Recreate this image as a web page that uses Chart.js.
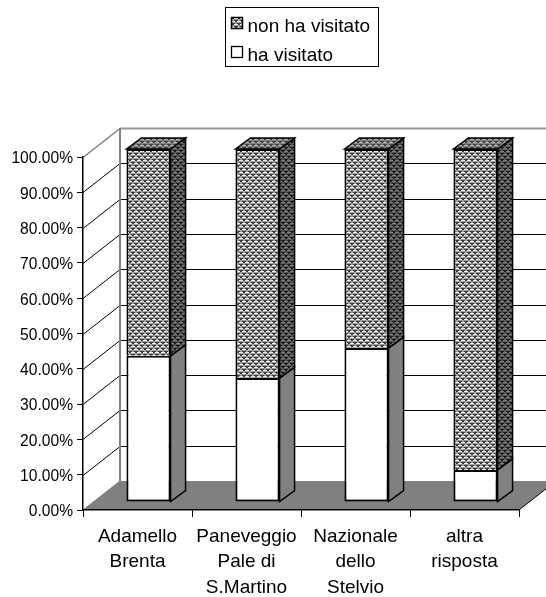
<!DOCTYPE html>
<html>
<head>
<meta charset="utf-8">
<title>Parchi visitati</title>
<script src="https://cdn.jsdelivr.net/npm/chart.js@4"></script>
<style>
html, body { margin: 0; padding: 0; background: #fff; }
canvas { display: block; }
</style>
</head>
<body>
<canvas id="chart" width="546" height="597"></canvas>
<script>
var categories = [["Adamello", "Brenta"], ["Paneveggio", "Pale di", "S.Martino"], ["Nazionale", "dello", "Stelvio"], ["altra", "risposta"]],
    haVisitato = [41.4, 35.1, 43.6, 9.1],
    nonHaVisitato = [58.6, 64.9, 56.4, 90.9],
    seriesNames = ["ha visitato", "non ha visitato"],
    yTicks = [0, 10, 20, 30, 40, 50, 60, 70, 80, 90, 100];

var wallX = 37, wallY = -29,     // depth of the floor and the side wall
    barShiftX = 11, barShiftY = -8, // bars stand in the middle of the floor
    barDepthX = 15, barDepthY = -11,
    fontName = '"Liberation Sans", Arial, sans-serif';

// brick of light blobs on a dark lattice, like the old office fill pattern
function dots(bg, light, dark) {
    var tile = document.createElement("canvas");
    tile.width = 6;
    tile.height = 6;
    var c = tile.getContext("2d");
    c.fillStyle = bg;
    c.fillRect(0, 0, 6, 6);
    c.fillStyle = light;
    c.fillRect(0, 0, 4, 1);
    c.fillRect(3, 3, 3, 1);
    c.fillRect(0, 3, 1, 1);
    c.fillStyle = dark;
    c.fillRect(4, 0, 2, 1);
    c.fillRect(1, 3, 2, 1);
    c.fillRect(0, 2, 4, 1);
    c.fillRect(3, 5, 3, 1);
    c.fillRect(0, 5, 1, 1);
    return document.getElementById("chart").getContext("2d").createPattern(tile, "repeat");
}

var frontFill = dots("#a0a0a0", "#f2f2f2", "#3c3c3c"),
    topFill = dots("#848484", "#b0b0b0", "#404040"),
    sideFill = dots("#565656", "#808080", "#1c1c1c");

function poly(ctx, pts, fill, stroke, width) {
    ctx.beginPath();
    ctx.moveTo(pts[0][0], pts[0][1]);
    for (var i = 1; i < pts.length; i++) ctx.lineTo(pts[i][0], pts[i][1]);
    ctx.closePath();
    if (fill) {
        ctx.fillStyle = fill;
        ctx.fill();
    }
    if (stroke) {
        ctx.strokeStyle = stroke;
        ctx.lineWidth = width;
        ctx.stroke();
    }
}

function line(ctx, x1, y1, x2, y2, color, width) {
    ctx.beginPath();
    ctx.moveTo(x1, y1);
    ctx.lineTo(x2, y2);
    ctx.strokeStyle = color;
    ctx.lineWidth = width;
    ctx.stroke();
}

// back wall, floor and the bent gridlines
var wallPlugin = {
    id: "wall",
    beforeDraw: function (chart) {
        var ctx = chart.ctx, a = chart.chartArea, y = chart.scales.y, w = chart.width;
        ctx.save();
        poly(ctx, [[a.left, a.bottom], [a.right, a.bottom], [a.right + wallX, a.bottom + wallY], [a.left + wallX, a.bottom + wallY]], "#808080");
        line(ctx, a.left, a.bottom, a.left + wallX, a.bottom + wallY, "#808080", 1);
        line(ctx, a.right, a.bottom, a.right + wallX, a.bottom + wallY, "#000", 1);
        yTicks.forEach(function (v) {
            var py = Math.round(y.getPixelForValue(v)) + 0.5;
            if (v === 100) {
                line(ctx, a.left, py, a.left + wallX, py + wallY, "#808080", 1.5);
                line(ctx, a.left + wallX, py + wallY, w, py + wallY, "#999", 2);
            } else if (v > 0) {
                line(ctx, a.left, py, a.left + wallX, py + wallY, "#000", 1);
                line(ctx, a.left + wallX, py + wallY, w, py + wallY, "#000", 1);
            } else {
                line(ctx, a.left + wallX, py + wallY, w, py + wallY, "#808080", 1);
            }
        });
        line(ctx, a.left + wallX, y.getPixelForValue(100) + wallY, a.left + wallX, a.bottom + wallY, "#808080", 2);
        ctx.restore();
    },
    // side and top faces come from the bar elements, the front is the real bar
    beforeDatasetsDraw: function (chart) {
        var ctx = chart.ctx;
        ctx.save();
        ctx.translate(barShiftX, barShiftY);
        chart.data.datasets.forEach(function (ds, d) {
            chart.getDatasetMeta(d).data.forEach(function (bar) {
                var r = bar.x + bar.width / 2, l = bar.x - bar.width / 2;
                poly(ctx, [[r, bar.y], [r + barDepthX, bar.y + barDepthY], [r + barDepthX, bar.base + barDepthY], [r, bar.base]],
                    d === 0 ? "#808080" : sideFill, "#000", 1.5);
                if (d === chart.data.datasets.length - 1) {
                    poly(ctx, [[l, bar.y], [l + barDepthX, bar.y + barDepthY], [r + barDepthX, bar.y + barDepthY], [r, bar.y]], topFill, "#000", 1.5);
                }
            });
        });
    },
    afterDatasetsDraw: function (chart) {
        chart.ctx.restore();
    },
    // legend box, reversed like the stack
    afterDraw: function (chart) {
        var ctx = chart.ctx, names = seriesNames.slice().reverse();
        ctx.save();
        ctx.fillStyle = "#fff";
        ctx.fillRect(225.5, 7.5, 153, 59);
        ctx.strokeStyle = "#000";
        ctx.lineWidth = 1;
        ctx.strokeRect(225.5, 7.5, 153, 59);
        ctx.font = "19px " + fontName;
        ctx.textBaseline = "middle";
        names.forEach(function (name, i) {
            var ly = 23 + i * 29;
            ctx.fillStyle = "#000";
            ctx.fillText(name, 247.5, ly + 4);
            ctx.fillStyle = i === 0 ? frontFill : "#fff";
            ctx.fillRect(231.5, ly - 5.5, 11, 11);
            ctx.strokeStyle = "#000";
            ctx.lineWidth = i === 0 ? 1.5 : 1.3;
            ctx.strokeRect(231.5, ly - 5.5, 11, 11);
        });
        ctx.restore();
    }
};

window.onload = function () {
    new Chart(document.getElementById("chart"), {
        type: "bar",
        data: {
            labels: categories,
            datasets: [{
                label: seriesNames[0],
                data: haVisitato,
                backgroundColor: "#fff",
                borderColor: "#000",
                borderWidth: 2,
                borderSkipped: false,
                clip: false
            }, {
                label: seriesNames[1],
                data: nonHaVisitato,
                backgroundColor: frontFill,
                borderColor: "#000",
                borderWidth: 2,
                borderSkipped: "bottom",
                clip: false
            }]
        },
        options: {
            responsive: false,
            animation: false,
            categoryPercentage: 1,
            barPercentage: 0.405,
            layout: { padding: { top: 157, right: 27, left: 0, bottom: 0 } },
            plugins: { legend: { display: false }, tooltip: { enabled: false } },
            scales: {
                x: {
                    stacked: true,
                    afterFit: function (s) { s.height = 87; },
                    border: { color: "#000", width: 1.5 },
                    grid: { drawOnChartArea: false, color: "#000", tickLength: 7, offset: true },
                    ticks: { color: "#000", maxRotation: 0, autoSkip: false, padding: 7, font: { family: fontName, size: 19, lineHeight: "25.5px" } }
                },
                y: {
                    stacked: true,
                    min: 0,
                    max: 100,
                    afterFit: function (s) { s.width = 83; },
                    border: { color: "#000", width: 1.5 },
                    grid: { drawOnChartArea: false, color: "#000", tickLength: 6 },
                    ticks: {
                        color: "#000",
                        stepSize: 10,
                        padding: 4,
                        font: { family: fontName, size: 15.6, lineHeight: "4px" },
                        // empty first line pushes the label 2px below the tick
                        callback: function (v) { return ["", v.toFixed(2) + "%"]; }
                    }
                }
            }
        },
        plugins: [wallPlugin]
    });
};
</script>
</body>
</html>
